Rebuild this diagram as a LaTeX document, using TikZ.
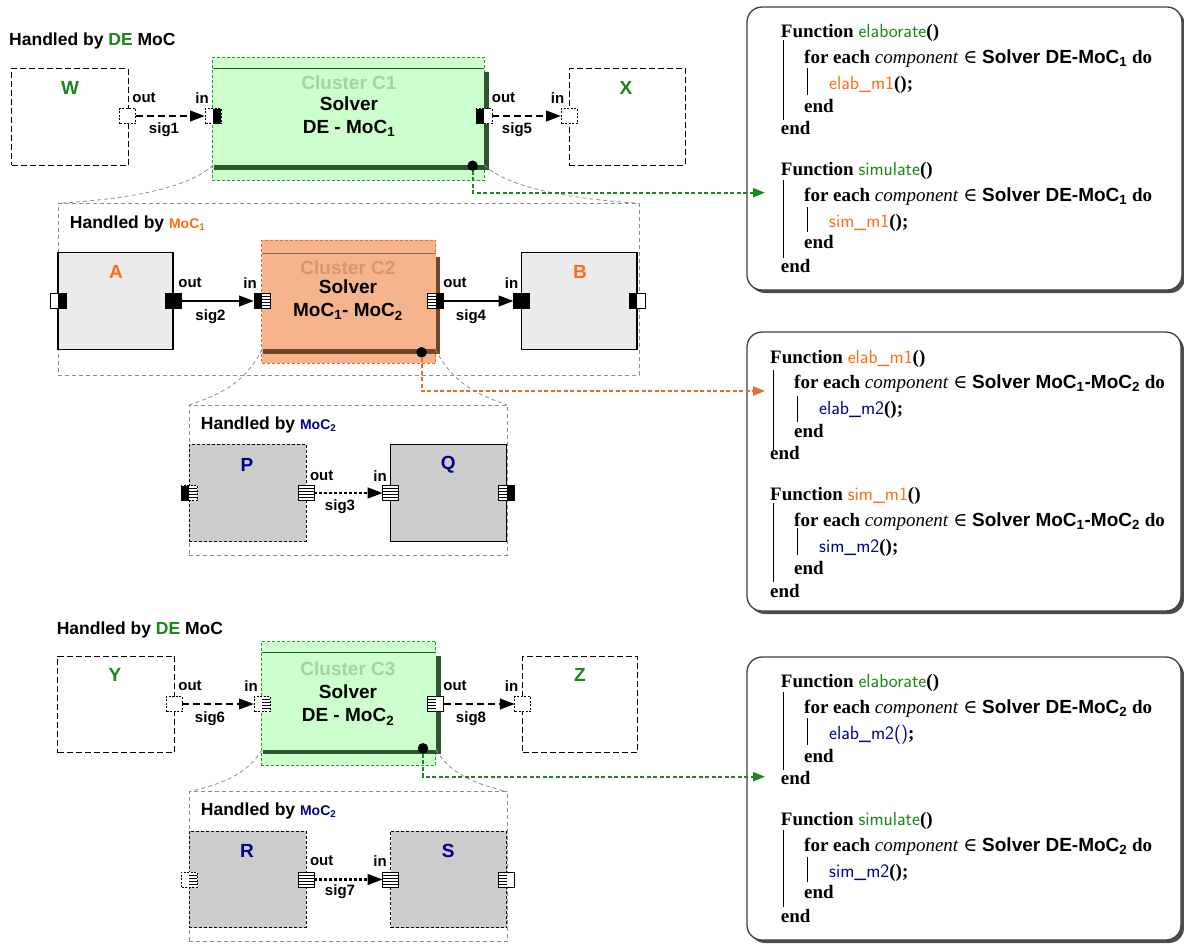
\documentclass[tikz,border=0pt]{standalone}
\usepackage{fontspec}
\setmainfont{Liberation Serif}
\newfontfamily\helv{Liberation Sans}
\newfontfamily\djv{DejaVu Serif}
\usetikzlibrary{arrows.meta}
\definecolor{mgreen}{RGB}{25,135,25}
\definecolor{lgreen}{RGB}{204,255,204}
\definecolor{dgreen}{RGB}{45,85,45}
\definecolor{gfade}{RGB}{165,210,165}
\definecolor{gdash}{RGB}{40,150,40}
\definecolor{morange}{RGB}{255,110,20}
\definecolor{ofill}{RGB}{245,180,140}
\definecolor{oshadow}{RGB}{115,70,40}
\definecolor{ofade}{RGB}{215,150,110}
\definecolor{odash}{RGB}{230,110,40}
\definecolor{navy}{RGB}{0,0,140}
\definecolor{afill}{RGB}{235,235,235}
\definecolor{pfill}{RGB}{204,204,204}
\newcommand\halfW[2]{}
\newcommand\halfB[2]{\fill[black] (#1,#2) ++(0,-7.5) rectangle ++(8,15);}
\newcommand\halfS[2]{\foreach \k in {-4.5,-1.5,1.5,4.5}{\draw[line width=0.7pt] (#1,#2) ++(0,\k) -- ++(8,0);}}
\newcommand\prt[6]{%
 \node[portbox] (#1) at (#2,#3) {};
 \csname half#4\endcsname{#2-8}{#3}%
 \csname half#5\endcsname{#2}{#3}%
 \draw[#6] (#1.south west) rectangle (#1.north east);}
\newcommand\kw[1]{\textbf{#1}}
\newcommand\fn[2]{{\sffamily\color{#1}#2}}
\newcommand\solv[1]{{\helv\bfseries #1}}
\newcommand\inn{{\djv ∈}}
\newcommand\cl[4]{\node[codeline] (#1) at (#2,#3) {#4};}
\begin{document}
\begin{tikzpicture}[x=1pt,y=-1pt,
 boxnw/.style={rectangle, anchor=north west, inner sep=0pt, outer sep=0pt},
 dbox/.style={boxnw, draw, line width=1pt, dash pattern=on 6pt off 3pt},
 fbox/.style={boxnw, draw, line width=1pt, dash pattern=on 3pt off 2pt},
 sbox/.style={boxnw, draw, line width=1.2pt},
 hbox/.style={boxnw, draw=black!45, line width=0.8pt, dash pattern=on 4pt off 3pt},
 zoomline/.style={draw=black!45, line width=0.8pt, dash pattern=on 4pt off 3pt},
 portbox/.style={rectangle, minimum width=16pt, minimum height=15pt, inner sep=0pt, outer sep=0pt, fill=white},
 pS/.style={line width=0.9pt},
 pD/.style={line width=0.9pt, dash pattern=on 2pt off 1.5pt},
 lbl/.style={font={\helv\bfseries\fontsize{15}{17}\selectfont}, inner sep=0pt},
 big/.style={font={\helv\bfseries\fontsize{19}{22}\selectfont}, inner sep=0pt},
 hdl/.style={font={\helv\bfseries\fontsize{17.5}{20}\selectfont}, inner sep=0pt, anchor=west},
 sig/.style={line width=2.5pt, -{Triangle[length=15pt,width=10.5pt]}},
 sigdash/.style={sig, dash pattern=on 7pt off 4pt},
 sigdot/.style={sig, dash pattern=on 2.5pt off 2.5pt},
 conn/.style={line width=2pt, dash pattern=on 4pt off 2.5pt, -{Triangle[length=12pt,width=9pt]}},
 dot/.style={circle, fill=black, minimum size=10.5pt, inner sep=0pt, outer sep=0pt},
 codebox/.style={boxnw, draw=black!75, line width=1.3pt, fill=white, rounded corners=15pt},
 codeshadow/.style={boxnw, fill=black!70, rounded corners=15pt},
 codeline/.style={anchor=base west, inner sep=0pt, font={\fontsize{19}{23}\selectfont}},
 bar/.style={line width=0.8pt}
]
\useasboundingbox (0,0) rectangle (1184,943);

% ================= TOP: DE MoC with cluster C1 =================
\node[hdl] (T1) at (9,41) {Handled by \textcolor{mgreen}{DE} MoC};
\node[dbox, minimum width=116.5pt, minimum height=96.7pt] (W) at (11.5,68.3) {};
\node[big, text=mgreen] (Wl) at (70,88) {W};
\node[dbox, minimum width=116pt, minimum height=96.7pt] (X) at (569,68.3) {};
\node[big, text=mgreen] (Xl) at (626,88) {X};

\node[boxnw, draw=gdash, dash pattern=on 3pt off 2pt, line width=1pt, fill=lgreen, minimum width=272pt, minimum height=123.4pt] (C1o) at (212.4,57.3) {};
\node[boxnw, fill=lgreen, minimum width=271pt, minimum height=96.7pt] (C1) at (213,68.3) {};
\fill[dgreen] (214,165) rectangle (489,169.5);
\fill[dgreen] (484,71.5) rectangle (489,169.5);
\draw[dgreen, line width=0.9pt] (C1.north west) -- (C1.north east);
\node[big, text=gfade] (C1t) at (349,83) {Cluster C1};
\node[big] (C1s) at (349,104) {Solver};
\node[big] (C1m) at (349,128) {DE - MoC\textsubscript{1}};

\prt{Wout}{127.7}{116}{W}{W}{pD}
\prt{C1in}{213}{116}{W}{B}{pD}
\prt{C1out}{484}{116}{B}{W}{pD}
\prt{Xin}{569}{116}{W}{W}{pD}
\draw[sigdash] (Wout.east) -- (C1in.west);
\draw[sigdash] (C1out.east) -- (Xin.west);
\node[lbl] (l1) at (144,98) {out};
\node[lbl] (l2) at (202,98) {in};
\node[lbl] (l3) at (164,130) {sig1};
\node[lbl] (l4) at (503.5,98) {out};
\node[lbl] (l5) at (557.5,98) {in};
\node[lbl] (l6) at (517,130) {sig5};
\node[dot] (C1dot) at (472.6,165.7) {};

% ================= MoC1 level =================
\node[hbox, minimum width=581pt, minimum height=171.7pt] (H1) at (58,203.3) {};
\draw[zoomline] (C1.south west) .. controls (185,192) and (110,200) .. (H1.north west);
\draw[zoomline] (C1.south east) .. controls (513,192) and (590,200) .. (H1.north east);
\node[hdl] (T2) at (69.7,224) {Handled by \textcolor{morange}{\fontsize{14}{16}\selectfont MoC\textsubscript{1}}};

\node[sbox, fill=afill, minimum width=115pt, minimum height=96.6pt] (A) at (58,252.7) {};
\node[big, text=morange] (Al) at (116,272) {A};
\node[sbox, fill=afill, minimum width=115.4pt, minimum height=96.6pt] (B) at (521.6,252.7) {};
\node[big, text=morange] (Bl) at (580,272) {B};

\node[boxnw, draw=odash, dash pattern=on 3pt off 2pt, line width=1pt, fill=ofill, minimum width=174pt, minimum height=123.3pt] (C2o) at (261.5,240) {};
\node[boxnw, fill=ofill, minimum width=173.5pt, minimum height=96pt] (C2) at (262,253.3) {};
\fill[oshadow] (263,349.3) rectangle (440,353.8);
\fill[oshadow] (435.5,256.5) rectangle (440,353.8);
\draw[oshadow!80, line width=0.7pt] (C2.north west) -- (C2.north east);
\node[big, text=ofade] (C2t) at (348,268) {Cluster C2};
\node[big] (C2s) at (348,287) {Solver};
\node[big] (C2m) at (348,311.7) {MoC\textsubscript{1}- MoC\textsubscript{2}};

\prt{Aleft}{58}{301}{W}{B}{pS}
\prt{Aright}{173}{301}{B}{B}{pS}
\prt{C2in}{262}{301}{B}{S}{pS}
\prt{C2out}{435.5}{301}{S}{B}{pS}
\prt{Bin}{521.6}{301}{B}{B}{pS}
\prt{Bright}{637}{301}{B}{W}{pS}
\draw[sig] (Aright.east) -- (C2in.west);
\draw[sig] (C2out.east) -- (Bin.west);
\node[lbl] (l7) at (190,283) {out};
\node[lbl] (l8) at (250,283) {in};
\node[lbl] (l9) at (210.5,316.7) {sig2};
\node[lbl] (l10) at (455,283) {out};
\node[lbl] (l11) at (511.5,283) {in};
\node[lbl] (l12) at (471,316.7) {sig4};
\node[dot] (C2dot) at (421.6,352.3) {};

% ================= MoC2 level (P,Q) =================
\node[hbox, minimum width=318pt, minimum height=150pt] (H2) at (189.3,405) {};
\draw[zoomline] (C2.south west) .. controls (245,385) and (215,396) .. (H2.north west);
\draw[zoomline] (C2.south east) .. controls (453,385) and (482,396) .. (H2.north east);
\node[hdl] (T3) at (200.7,425) {Handled by \textcolor{navy}{\fontsize{14}{16}\selectfont MoC\textsubscript{2}}};
\node[fbox, fill=pfill, minimum width=116.7pt, minimum height=97.4pt] (P) at (189.3,444.3) {};
\node[big, text=navy] (Pl) at (247,465) {P};
\node[sbox, fill=pfill, minimum width=116pt, minimum height=97.4pt] (Q) at (390.7,444.3) {};
\node[big, text=navy] (Ql) at (448.3,465) {Q};
\prt{Pleft}{189.3}{493}{B}{S}{pD}
\prt{Pright}{306}{493}{S}{S}{pS}
\prt{Qin}{390.7}{493}{S}{S}{pS}
\prt{Qright}{506.7}{493}{S}{B}{pS}
\draw[sigdot] (Pright.east) -- (Qin.west);
\node[lbl] (l13) at (321.7,475.7) {out};
\node[lbl] (l14) at (380,475.7) {in};
\node[lbl] (l15) at (340,506.7) {sig3};

% ================= second DE MoC with C3 =================
\node[hdl] (T4) at (56.6,629.5) {Handled by \textcolor{mgreen}{DE} MoC};
\node[dbox, minimum width=116.5pt, minimum height=96.7pt] (Y) at (57.8,656) {};
\node[big, text=mgreen] (Yl) at (115,675) {Y};
\node[dbox, minimum width=114.2pt, minimum height=96.7pt] (Z) at (522.8,656) {};
\node[big, text=mgreen] (Zl) at (580,675) {Z};

\node[boxnw, draw=gdash, dash pattern=on 3pt off 2pt, line width=1pt, fill=lgreen, minimum width=174.7pt, minimum height=124pt] (C3o) at (261.2,641.7) {};
\node[boxnw, fill=lgreen, minimum width=174pt, minimum height=97pt] (C3) at (262,652.7) {};
\fill[dgreen] (263,749.7) rectangle (440.5,754.2);
\fill[dgreen] (436,656) rectangle (440.5,754.2);
\draw[dgreen, line width=0.9pt] (C3.north west) -- (C3.north east);
\node[big, text=gfade] (C3t) at (348,668.3) {Cluster C3};
\node[big] (C3s) at (348,691.7) {Solver};
\node[big] (C3m) at (348,716.7) {DE - MoC\textsubscript{2}};

\prt{Yout}{174.3}{704}{W}{W}{pD}
\prt{C3in}{262}{704}{W}{S}{pD}
\prt{C3out}{435.5}{704}{S}{W}{pS}
\prt{Zin}{522.8}{704}{W}{W}{pD}
\draw[sigdash] (Yout.east) -- (C3in.west);
\draw[sigdash] (C3out.east) -- (Zin.west);
\node[lbl] (l16) at (190,686) {out};
\node[lbl] (l17) at (251,686) {in};
\node[lbl] (l18) at (210,719) {sig6};
\node[lbl] (l19) at (455,686) {out};
\node[lbl] (l20) at (511.5,686) {in};
\node[lbl] (l21) at (471,719) {sig8};
\node[dot] (C3dot) at (423,748.3) {};

% ================= MoC2 level (R,S) =================
\node[hbox, minimum width=318pt, minimum height=150pt] (H3) at (189.3,791.7) {};
\draw[zoomline] (C3.south west) .. controls (245,778) and (215,785) .. (H3.north west);
\draw[zoomline] (C3.south east) .. controls (453,778) and (482,785) .. (H3.north east);
\node[hdl] (T5) at (200.7,811) {Handled by \textcolor{navy}{\fontsize{14}{16}\selectfont MoC\textsubscript{2}}};
\node[fbox, fill=pfill, minimum width=116.7pt, minimum height=96.7pt] (R) at (189.3,831) {};
\node[big, text=navy] (Rl) at (247,851) {R};
\node[fbox, fill=pfill, minimum width=116pt, minimum height=96.7pt] (S) at (390.7,831) {};
\node[big, text=navy] (Sl) at (448.3,851) {S};
\prt{Rleft}{189.3}{879.5}{W}{S}{pD}
\prt{Rright}{306}{879.5}{S}{S}{pS}
\prt{Sin}{390.7}{879.5}{S}{S}{pS}
\prt{Sright}{506.7}{879.5}{S}{W}{pS}
\draw[sigdot] (Rright.east) -- (Sin.west);
\node[lbl] (l22) at (321.7,860.7) {out};
\node[lbl] (l23) at (380,860.7) {in};
\node[lbl] (l24) at (340,891.7) {sig7};

% ================= Code boxes =================
\node[codeshadow, minimum width=435pt, minimum height=283pt] (K1s) at (750,10) {};
\node[codebox, minimum width=435pt, minimum height=283pt] (K1) at (747,7) {};
\node[codeshadow, minimum width=434pt, minimum height=279pt] (K2s) at (750,335) {};
\node[codebox, minimum width=434pt, minimum height=279pt] (K2) at (747,332) {};
\node[codeshadow, minimum width=434pt, minimum height=283pt] (K3s) at (750,660) {};
\node[codebox, minimum width=434pt, minimum height=283pt] (K3) at (747,657) {};

\coordinate (K1in) at (765,192.7);
\coordinate (K2in) at (765,391);
\coordinate (K3in) at (765,776.7);
\draw[conn, mgreen] (C1dot.south) |- (K1in);
\draw[conn, odash] (C2dot.south) |- (K2in);
\draw[conn, mgreen] (C3dot.south) |- (K3in);

% box 1
\cl{k1a}{780.7}{37.3}{\kw{Function} \fn{mgreen}{elaborate}\kw{()}}
\cl{k1b}{804}{63}{\kw{for each} \textit{component} \inn{} \solv{Solver DE-MoC\textsubscript{1}} \kw{do}}
\cl{k1c}{829}{89}{\fn{morange}{elab\_m1}\kw{();}}
\cl{k1d}{804}{112}{\kw{end}}
\cl{k1e}{780.7}{134}{\kw{end}}
\cl{k1f}{780.7}{175}{\kw{Function} \fn{mgreen}{simulate}\kw{()}}
\cl{k1g}{804}{201}{\kw{for each} \textit{component} \inn{} \solv{Solver DE-MoC\textsubscript{1}} \kw{do}}
\cl{k1h}{829}{227}{\fn{morange}{sim\_m1}\kw{();}}
\cl{k1i}{804}{248}{\kw{end}}
\cl{k1j}{780.7}{272}{\kw{end}}
\draw[bar] (783,40) -- (783,120);
\draw[bar] (807,68) -- (807,95);
\draw[bar] (783,180) -- (783,258);
\draw[bar] (807,207) -- (807,232);

% box 2
\cl{k2a}{770}{363}{\kw{Function} \fn{morange}{elab\_m1}\kw{()}}
\cl{k2b}{794}{388}{\kw{for each} \textit{component} \inn{} \solv{Solver MoC\textsubscript{1}-MoC\textsubscript{2}} \kw{do}}
\cl{k2c}{819}{414}{\fn{navy}{elab\_m2}\kw{();}}
\cl{k2d}{794}{437}{\kw{end}}
\cl{k2e}{770}{459}{\kw{end}}
\cl{k2f}{770}{500}{\kw{Function} \fn{morange}{sim\_m1}\kw{()}}
\cl{k2g}{794}{526}{\kw{for each} \textit{component} \inn{} \solv{Solver MoC\textsubscript{1}-MoC\textsubscript{2}} \kw{do}}
\cl{k2h}{819}{552}{\fn{navy}{sim\_m2}\kw{();}}
\cl{k2i}{794}{574}{\kw{end}}
\cl{k2j}{770}{597}{\kw{end}}
\draw[bar] (773,370) -- (773,450);
\draw[bar] (797,396) -- (797,422);
\draw[bar] (773,503) -- (773,582);
\draw[bar] (797,528) -- (797,555);

% box 3
\cl{k3a}{780.7}{687}{\kw{Function} \fn{mgreen}{elaborate}\kw{()}}
\cl{k3b}{804}{713}{\kw{for each} \textit{component} \inn{} \solv{Solver DE-MoC\textsubscript{2}} \kw{do}}
\cl{k3c}{829}{739}{\fn{navy}{elab\_m2()}\kw{;}}
\cl{k3d}{804}{762}{\kw{end}}
\cl{k3e}{780.7}{784}{\kw{end}}
\cl{k3f}{780.7}{825}{\kw{Function} \fn{mgreen}{simulate}\kw{()}}
\cl{k3g}{804}{851}{\kw{for each} \textit{component} \inn{} \solv{Solver DE-MoC\textsubscript{2}} \kw{do}}
\cl{k3h}{829}{877}{\fn{navy}{sim\_m2}\kw{();}}
\cl{k3i}{804}{898}{\kw{end}}
\cl{k3j}{780.7}{922}{\kw{end}}
\draw[bar] (783,692) -- (783,770);
\draw[bar] (807,718) -- (807,745);
\draw[bar] (783,830) -- (783,907);
\draw[bar] (807,857) -- (807,882);
\end{tikzpicture}
\end{document}
